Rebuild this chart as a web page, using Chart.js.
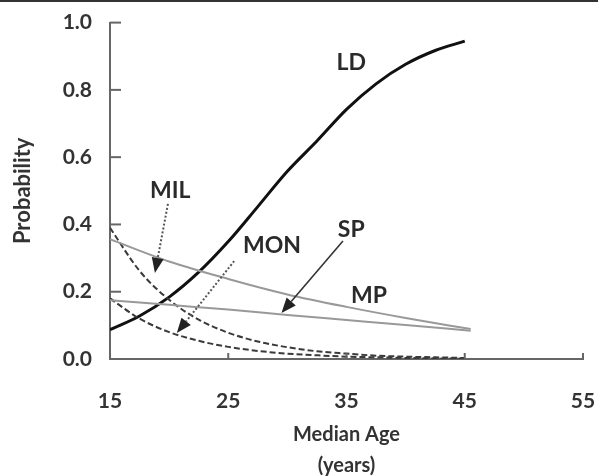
<!DOCTYPE html>
<html>
<head>
<meta charset="utf-8">
<script src="https://cdn.jsdelivr.net/npm/chart.js@4/dist/chart.umd.min.js"></script>
<style>
  html, body { margin: 0; padding: 0; background: #fff; }
  #wrap { width: 598px; height: 476px; position: relative; }
</style>
</head>
<body>
<div id="wrap"><canvas id="chart"></canvas></div>
<script>
// values
const ldAge = [15, 17.5, 20, 22.5, 25, 27.5, 30, 32.5, 35, 37.5, 40, 42.5, 45];
const ldVal = [0.087, 0.128, 0.184, 0.258, 0.349, 0.453, 0.558, 0.648, 0.742, 0.818, 0.876, 0.917, 0.945];

const mpAge = [15, 20, 25, 30, 35, 40, 45.5];
const mpVal = [0.356, 0.29, 0.238, 0.192, 0.155, 0.122, 0.089];

const spAge = [15, 20, 25, 30, 35, 40, 45.5];
const spVal = [0.175, 0.161, 0.147, 0.131, 0.116, 0.101, 0.084];

const milAge = [15, 17.5, 20, 22.5, 25, 27.5, 30, 32.5, 35, 37.5, 40, 42.5, 45];
const milVal = [0.39, 0.262, 0.176, 0.117, 0.078, 0.052, 0.035, 0.023, 0.016, 0.01, 0.007, 0.005, 0.003];

const monAge = [15, 17.5, 20, 22.5, 25, 27.5, 30, 32.5, 35, 37.5, 40, 42.5, 45];
const monVal = [0.18, 0.12, 0.08, 0.054, 0.036, 0.024, 0.016, 0.011, 0.007, 0.005, 0.003, 0.002, 0.001];

const xTicks = [15, 25, 35, 45, 55];
const yTicks = [0, 0.2, 0.4, 0.6, 0.8, 1.0];

// curve labels [text, age, probability]
const curveLabels = [
  ["LD", 35.4, 0.88],
  ["MIL", 20.1, 0.5],
  ["MON", 28.7, 0.336],
  ["SP", 35.4, 0.386],
  ["MP", 36.9, 0.19]
];
// arrows [fromAge, fromProb, toAge, toProb, dotted]
const arrows = [
  [19.9, 0.461, 18.8, 0.256, true],
  [25.5, 0.291, 20.65, 0.077, true],
  [34.7, 0.351, 29.5, 0.137, false]
];

const FONT = "Lato, sans-serif";

function pts(xs, ys) {
  return xs.map((x, i) => ({ x: x, y: ys[i] }));
}

const extras = {
  id: "extras",
  afterDraw(chart) {
    const ctx = chart.ctx;
    const xs = chart.scales.x;
    const ys = chart.scales.y;
    ctx.save();
    // frame line along the top
    ctx.fillStyle = "#333";
    ctx.fillRect(0, 0, 598, 2);

    // inward tick marks
    ctx.strokeStyle = "#666";
    ctx.lineWidth = 2;
    yTicks.forEach(v => {
      if (v === 0) return;
      const py = ys.getPixelForValue(v);
      ctx.beginPath();
      ctx.moveTo(xs.left, py);
      ctx.lineTo(xs.left + 11, py);
      ctx.stroke();
    });
    xTicks.forEach(v => {
      if (v === 15) return;
      const px = xs.getPixelForValue(v);
      ctx.beginPath();
      ctx.moveTo(px, ys.bottom);
      ctx.lineTo(px, ys.bottom - 6);
      ctx.stroke();
    });

    // labels on the curves
    ctx.fillStyle = "#2a2a2a";
    ctx.font = "bold 23px " + FONT;
    ctx.textAlign = "center";
    ctx.textBaseline = "middle";
    curveLabels.forEach(([t, a, p]) => {
      ctx.fillText(t, xs.getPixelForValue(a), ys.getPixelForValue(p));
    });

    // arrows
    arrows.forEach(([a0, p0, a1, p1, dotted]) => {
      const x0 = xs.getPixelForValue(a0), y0 = ys.getPixelForValue(p0);
      const x1 = xs.getPixelForValue(a1), y1 = ys.getPixelForValue(p1);
      const ang = Math.atan2(y1 - y0, x1 - x0);
      const hl = 15, hw = 6;
      const bx = x1 - hl * Math.cos(ang), by = y1 - hl * Math.sin(ang);
      ctx.strokeStyle = dotted ? "#555" : "#333";
      ctx.lineWidth = dotted ? 2 : 1.6;
      ctx.setLineDash(dotted ? [2, 2] : []);
      ctx.beginPath();
      ctx.moveTo(x0, y0);
      ctx.lineTo(bx, by);
      ctx.stroke();
      ctx.setLineDash([]);
      ctx.fillStyle = "#222";
      ctx.beginPath();
      ctx.moveTo(x1, y1);
      ctx.lineTo(bx + hw * Math.sin(ang), by - hw * Math.cos(ang));
      ctx.lineTo(bx - hw * Math.sin(ang), by + hw * Math.cos(ang));
      ctx.closePath();
      ctx.fill();
    });
    ctx.restore();
  }
};

new Chart(document.getElementById("chart"), {
  type: "line",
  data: {
    datasets: [
      { label: "MP", data: pts(mpAge, mpVal), borderColor: "#999", borderWidth: 2 },
      { label: "SP", data: pts(spAge, spVal), borderColor: "#999", borderWidth: 2 },
      { label: "MIL", data: pts(milAge, milVal), borderColor: "#3a3a3a", borderWidth: 2, borderDash: [6, 3] },
      { label: "MON", data: pts(monAge, monVal), borderColor: "#3a3a3a", borderWidth: 2, borderDash: [6, 3] },
      { label: "LD", data: pts(ldAge, ldVal), borderColor: "#111", borderWidth: 3 }
    ]
  },
  options: {
    responsive: true,
    maintainAspectRatio: false,
    animation: false,
    layout: { padding: { top: 9, right: 0, left: 0, bottom: 0 } },
    elements: {
      point: { radius: 0 },
      line: { cubicInterpolationMode: "monotone", fill: false }
    },
    plugins: { legend: { display: false }, tooltip: { enabled: false } },
    scales: {
      x: {
        type: "linear",
        min: 15,
        max: 55,
        afterBuildTicks: s => { s.ticks = xTicks.map(v => ({ value: v })); },
        afterFit: s => { s.height = 117; s.paddingLeft = 0; s.paddingRight = 15; },
        grid: { display: false },
        border: { color: "#666", width: 2 },
        ticks: { padding: 22, color: "#333", font: { family: FONT, size: 21, weight: "bold" } },
        title: {
          display: true,
          text: ["Median Age", "(years)"],
          color: "#333",
          font: { family: FONT, size: 20, weight: "bold", lineHeight: 1.55 },
          padding: { top: 0, bottom: -5 }
        }
      },
      y: {
        min: 0,
        max: 1,
        afterBuildTicks: s => { s.ticks = yTicks.map(v => ({ value: v })); },
        afterFit: s => { s.width = 110; },
        grid: { display: false },
        border: { color: "#666", width: 2 },
        ticks: { padding: 10, color: "#333", font: { family: FONT, size: 21, weight: "bold" }, callback: v => v.toFixed(1) },
        title: {
          display: true,
          text: "Probability",
          color: "#333",
          font: { family: FONT, size: 22, weight: "bold" },
          padding: { top: 10, bottom: 0 }
        }
      }
    }
  },
  plugins: [extras]
});
</script>
</body>
</html>
